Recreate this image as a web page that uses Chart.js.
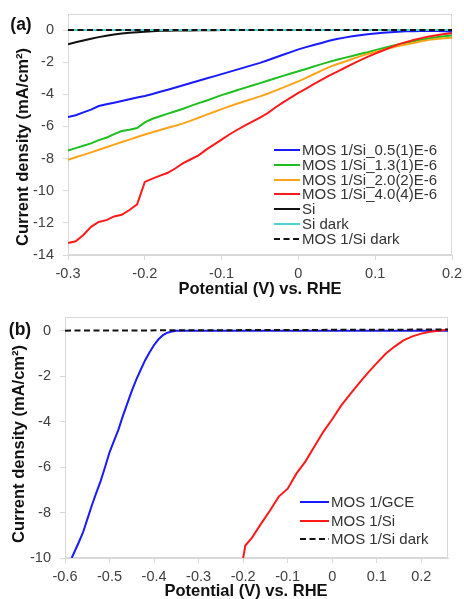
<!DOCTYPE html>
<html>
<head>
<meta charset="utf-8">
<script src="https://cdn.jsdelivr.net/npm/chart.js@4.4.1/dist/chart.umd.min.js"></script>
<style>
  html, body { margin: 0; padding: 0; background: #fff; }
  #wrap { position: relative; width: 464px; height: 599px; overflow: hidden; }
  canvas { position: absolute; left: 0; }
</style>
</head>
<body>
<div id="wrap">
  <canvas id="chartA" width="464" height="300" style="top:0"></canvas>
  <canvas id="chartB" width="464" height="299" style="top:300px"></canvas>
</div>
<script>
// ---- panel (a) data: potential (V vs. RHE) and current density (mA/cm2)
const potA = [-0.30,-0.29,-0.28,-0.27,-0.26,-0.25,-0.24,-0.23,-0.22,-0.21,
              -0.20,-0.19,-0.18,-0.17,-0.16,-0.15,-0.14,-0.13,-0.12,-0.11,
              -0.10,-0.09,-0.08,-0.07,-0.06,-0.05,-0.04,-0.03,-0.02,-0.01,
               0.00, 0.01, 0.02, 0.03, 0.04, 0.05, 0.06, 0.07, 0.08, 0.09,
               0.10, 0.11, 0.12, 0.13, 0.14, 0.15, 0.16, 0.17, 0.18, 0.19,
               0.20];
const blueA = [-5.42,-5.30,-5.12,-4.95,-4.73,-4.62,-4.52,-4.41,-4.30,-4.20,
               -4.10,-3.98,-3.84,-3.71,-3.57,-3.43,-3.29,-3.15,-3.02,-2.88,
               -2.74,-2.60,-2.46,-2.32,-2.18,-2.04,-1.88,-1.71,-1.54,-1.37,
               -1.20,-1.06,-0.93,-0.80,-0.67,-0.56,-0.47,-0.39,-0.32,-0.26,
               -0.21,-0.17,-0.13,-0.10,-0.08,-0.07,-0.06,-0.06,-0.06,-0.08,
               -0.10];
const greenA = [-7.50,-7.35,-7.20,-7.05,-6.85,-6.70,-6.48,-6.28,-6.20,-6.10,
                -5.75,-5.52,-5.36,-5.20,-5.05,-4.90,-4.72,-4.55,-4.40,-4.22,
                -4.05,-3.90,-3.75,-3.60,-3.45,-3.30,-3.15,-3.00,-2.85,-2.70,
                -2.56,-2.42,-2.27,-2.12,-1.98,-1.85,-1.73,-1.61,-1.49,-1.38,
                -1.25,-1.13,-1.00,-0.89,-0.79,-0.69,-0.60,-0.52,-0.45,-0.39,
                -0.33];
const orangeA = [-8.08,-7.92,-7.77,-7.61,-7.45,-7.29,-7.13,-6.97,-6.82,-6.66,
                 -6.50,-6.36,-6.22,-6.08,-5.95,-5.81,-5.64,-5.46,-5.28,-5.10,
                 -4.92,-4.75,-4.59,-4.43,-4.28,-4.13,-3.96,-3.77,-3.58,-3.38,
                 -3.19,-2.97,-2.75,-2.53,-2.31,-2.13,-1.97,-1.80,-1.64,-1.49,
                 -1.36,-1.24,-1.12,-1.00,-0.90,-0.80,-0.70,-0.61,-0.55,-0.51,
                 -0.48];
const redA = [-13.25,-13.15,-12.75,-12.25,-11.94,-11.83,-11.60,-11.50,-11.20,-10.85,
              -9.45,-9.25,-9.06,-8.88,-8.60,-8.28,-8.04,-7.80,-7.44,-7.13,
              -6.82,-6.50,-6.22,-5.95,-5.70,-5.45,-5.17,-4.82,-4.50,-4.20,
              -3.91,-3.64,-3.37,-3.10,-2.84,-2.60,-2.36,-2.12,-1.89,-1.67,
              -1.47,-1.27,-1.08,-0.89,-0.75,-0.62,-0.50,-0.40,-0.32,-0.25,
              -0.20];
const siA = [-0.89,-0.76,-0.65,-0.54,-0.44,-0.36,-0.28,-0.22,-0.17,-0.13,
             -0.10,-0.07,-0.05,-0.04,-0.03,-0.02,-0.02,-0.01,-0.01,-0.01,
              0, 0, 0, 0, 0, 0, 0, 0, 0, 0,
              0, 0, 0, 0, 0, 0, 0, 0, 0, 0,
              0, 0, 0, 0, 0, 0, 0, 0, 0, 0,
              0];
const potDarkA = [-0.30, 0.20];
const siDarkA = [0, 0];
const mosDarkA = [0, 0];

// ---- panel (b) data
const potGce = [-0.585,-0.57,-0.56,-0.55,-0.54,-0.53,-0.52,-0.51,-0.50,-0.49,
                -0.48,-0.47,-0.46,-0.45,-0.44,-0.43,-0.42,-0.41,-0.40,-0.39,
                -0.38,-0.37,-0.36,-0.35,-0.30,0.26];
const gceB = [-10.0,-9.35,-8.90,-8.30,-7.70,-7.15,-6.62,-6.00,-5.35,-4.85,
              -4.35,-3.75,-3.20,-2.65,-2.15,-1.72,-1.30,-0.95,-0.63,-0.38,
              -0.20,-0.09,-0.04,-0.01,0,0];
const potSiB = [-0.20,-0.195,-0.18,-0.16,-0.14,-0.12,-0.10,-0.08,-0.06,-0.04,
                -0.02,0.00,0.02,0.04,0.06,0.08,0.10,0.12,0.14,0.16,
                0.18,0.20,0.22,0.24,0.26];
const siB = [-10.0,-9.45,-9.10,-8.50,-7.92,-7.30,-6.95,-6.28,-5.75,-5.10,
             -4.45,-3.90,-3.30,-2.80,-2.32,-1.86,-1.43,-1.02,-0.70,-0.43,
             -0.25,-0.13,-0.05,0.00,0.05];
const potDarkB = [-0.60, 0.26];
const mosDarkB = [0, 0.05];

const labelsA = ['MOS 1/Si_0.5(1)E-6', 'MOS 1/Si_1.3(1)E-6', 'MOS 1/Si_2.0(2)E-6',
                 'MOS 1/Si_4.0(4)E-6', 'Si', 'Si dark', 'MOS 1/Si dark'];
const labelsB = ['MOS 1/GCE', 'MOS 1/Si', 'MOS 1/Si dark'];

// tick values
const xTicksA = [-0.3, -0.2, -0.1, 0, 0.1, 0.2];
const yTicksA = [-14, -12, -10, -8, -6, -4, -2, 0];
const xTicksB = [-0.6, -0.5, -0.4, -0.3, -0.2, -0.1, 0, 0.1, 0.2];
const yTicksB = [-10, -8, -6, -4, -2, 0];

const FONT = '"Liberation Sans", Arial, sans-serif';
const GRID = '#d9d9d9';
const BLUE = '#1a1aff', GREEN = '#1fbf1f', ORANGE = '#ffa31a', RED = '#ff1a1a',
      BLACK = '#111111', CYAN = '#4dd2d2';
const DASH = [6, 3.5];

function pts(xs, ys) {
  return xs.map((x, i) => ({ x: x, y: ys[i] }));
}

function line(label, xs, ys, color, order, dash) {
  return {
    label: label,
    data: pts(xs, ys),
    borderColor: color,
    backgroundColor: color,
    borderWidth: 2,
    borderDash: dash || [],
    pointRadius: 0,
    tension: 0,
    order: order
  };
}

// fixed scale boxes, no extra room for overhanging labels
function fixBox(s, w, h) {
  if (w !== null) s.width = w;
  if (h !== null) s.height = h;
  s.paddingTop = 0; s.paddingBottom = 0;
  s.paddingLeft = 0; s.paddingRight = 0;
}

function axes(xr, yr) {
  const tickFont = { family: FONT, size: 14.5 };
  return {
    x: {
      type: 'linear', min: xr.min, max: xr.max,
      ticks: { font: tickFont, color: '#404040', padding: xr.pad, maxRotation: 0 },
      grid: { drawOnChartArea: false, drawTicks: true, tickLength: 5, color: GRID },
      border: { display: true, color: GRID },
      afterBuildTicks: (s) => { s.ticks = xr.ticks.map(v => ({ value: v })); },
      afterFit: (s) => fixBox(s, null, xr.h)
    },
    y: {
      type: 'linear', min: yr.min, max: yr.max,
      ticks: { font: tickFont, color: '#404040', padding: 9 },
      grid: { drawOnChartArea: false, drawTicks: true, tickLength: 5, color: GRID },
      border: { display: true, color: GRID },
      afterBuildTicks: (s) => { s.ticks = yr.ticks.map(v => ({ value: v })); },
      afterFit: (s) => fixBox(s, yr.w, null)
    }
  };
}

// plot frame, legend and the free text (panel letters, axis titles)
function figurePlugin(cfg) {
  return {
    id: 'figure',
    beforeDatasetsDraw(chart) {
      const { ctx, chartArea: a } = chart;
      ctx.save();
      ctx.strokeStyle = GRID;
      ctx.lineWidth = 1;
      ctx.strokeRect(a.left + 0.5, a.top + 0.5, a.right - a.left - 1, a.bottom - a.top - 1);
      ctx.restore();
    },
    afterDraw(chart) {
      const ctx = chart.ctx;
      const lg = cfg.legend;
      ctx.save();
      ctx.font = '15px ' + FONT;
      ctx.textBaseline = 'middle';
      ctx.textAlign = 'left';
      chart.data.datasets.forEach((ds, i) => {
        const y = Math.round(lg.y + i * lg.step);
        ctx.beginPath();
        ctx.strokeStyle = ds.borderColor;
        ctx.lineWidth = 2;
        ctx.setLineDash(ds.borderDash || []);
        ctx.moveTo(lg.x, y);
        ctx.lineTo(lg.x + lg.len, y);
        ctx.stroke();
        ctx.setLineDash([]);
        ctx.fillStyle = '#333';
        ctx.fillText(ds.label, lg.x + lg.len + 2, y + 0.5);
      });
      cfg.texts.forEach(t => {
        ctx.save();
        ctx.translate(t.x, t.y);
        if (t.rot) ctx.rotate(t.rot);
        ctx.font = t.font;
        ctx.fillStyle = '#111';
        ctx.textAlign = 'center';
        ctx.textBaseline = 'middle';
        ctx.fillText(t.text, 0, 0);
        ctx.restore();
      });
      ctx.restore();
    }
  };
}

const TITLE_FONT = 'bold 16.5px ' + FONT;
const PANEL_FONT = 'bold 17.5px ' + FONT;
const Y_TITLE = 'Current density (mA/cm²)';
const X_TITLE = 'Potential (V) vs. RHE';

// ---- (a)  lower order = drawn on top
new Chart(document.getElementById('chartA'), {
  type: 'line',
  data: {
    datasets: [
      line(labelsA[0], potA, blueA, BLUE, 6),
      line(labelsA[1], potA, greenA, GREEN, 5),
      line(labelsA[2], potA, orangeA, ORANGE, 4),
      line(labelsA[3], potA, redA, RED, 3),
      line(labelsA[4], potA, siA, BLACK, 7),
      line(labelsA[5], potDarkA, siDarkA, CYAN, 1),
      line(labelsA[6], potDarkA, mosDarkA, BLACK, 0, DASH)
    ]
  },
  options: {
    responsive: false,
    animation: false,
    layout: { padding: { left: 0, top: 14, right: 12, bottom: 0 } },
    plugins: { legend: { display: false }, tooltip: { enabled: false } },
    scales: axes({ min: -0.3, max: 0.2, h: 45, pad: 5, ticks: xTicksA },
                 { min: -14, max: 1, w: 68, ticks: yTicksA })
  },
  plugins: [figurePlugin({
    legend: { x: 274, y: 150, step: 14.8, len: 26 },
    texts: [
      { text: '(a)', x: 21, y: 25, font: PANEL_FONT },
      { text: Y_TITLE, x: 23, y: 147, rot: -Math.PI / 2, font: TITLE_FONT },
      { text: X_TITLE, x: 260, y: 289, font: TITLE_FONT }
    ]
  })]
});

// ---- (b)
new Chart(document.getElementById('chartB'), {
  type: 'line',
  data: {
    datasets: [
      line(labelsB[0], potGce, gceB, BLUE, 2),
      line(labelsB[1], potSiB, siB, RED, 1),
      line(labelsB[2], potDarkB, mosDarkB, BLACK, 0, DASH)
    ]
  },
  options: {
    responsive: false,
    animation: false,
    layout: { padding: { left: 0, top: 17, right: 16, bottom: 0 } },
    plugins: { legend: { display: false }, tooltip: { enabled: false } },
    scales: axes({ min: -0.6, max: 0.26, h: 41, pad: 5, ticks: xTicksB },
                 { min: -10, max: 0.6, w: 65, ticks: yTicksB })
  },
  plugins: [figurePlugin({
    legend: { x: 300, y: 202, step: 18.5, len: 29 },
    texts: [
      { text: '(b)', x: 20, y: 30, font: PANEL_FONT },
      { text: Y_TITLE, x: 19, y: 144, rot: -Math.PI / 2, font: TITLE_FONT },
      { text: X_TITLE, x: 246, y: 291, font: TITLE_FONT }
    ]
  })]
});
</script>
</body>
</html>
